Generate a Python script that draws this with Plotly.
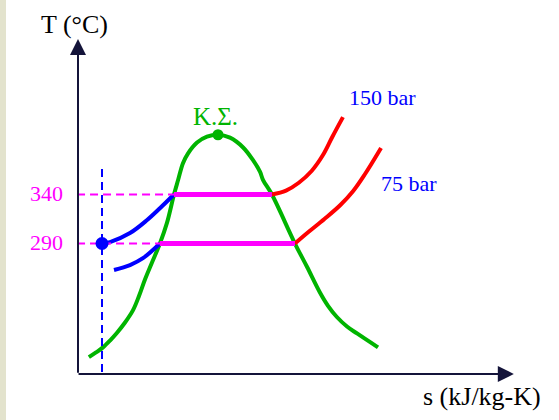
import plotly.graph_objects as go

# ---- data (s in kJ/kg-K, T in °C) ----
dome_s = [0.34, 0.5625, 0.78, 1.0, 1.22, 1.47, 1.72, 1.906, 2.09, 2.3125, 2.56, 2.78, 3.0,
          3.13, 3.28, 3.44, 3.72, 4.03, 4.375, 4.75, 5.16, 5.47, 5.69, 5.78, 6.06, 6.78,
          7.16, 7.56, 7.8125, 8.09, 8.406, 8.72, 9.375]
dome_T = [174, 178.8, 184, 191, 199, 209.4, 222, 236.4, 253, 270.6, 290, 311, 340,
          355, 372, 382, 393, 399, 401, 398, 388, 375, 363, 355, 340, 290,
          266, 240, 226.4, 215, 205.3, 198.2, 184]

liq150_s = [0.75, 1.0, 1.625, 2.16, 2.56, 3.0]
liq150_T = [290, 291.5, 300.7, 314, 326, 340]
liq75_s = [1.125, 1.625, 2.03, 2.56]
liq75_T = [263, 268, 275, 290]

vap150_s = [6.06, 6.5, 6.9, 7.3, 7.65, 7.95, 8.28]
vap150_T = [340, 344, 352, 364, 380, 399, 419]
vap75_s = [6.78, 7.2, 7.7, 8.2, 8.6, 8.95, 9.47]
vap75_T = [290, 301.7, 315, 329.3, 343.6, 359.9, 387.5]

sat_T = [340, 290]
sat_s_left = [3.0, 2.56]
sat_s_right = [6.06, 6.78]
sat_labels = ["340", "290"]
press_labels = ["150 bar", "75 bar"]

state_s = 0.75
state_T = 290
crit_s = 4.375
crit_T = 401

GREEN = "#00b400"
MAG = "#ff00ff"
RED = "#ff0000"
BLUE = "#0000ff"
AXC = "#14143a"
FONT = "Liberation Serif, Times New Roman, DejaVu Serif, serif"

fig = go.Figure()

fig.add_trace(go.Scatter(x=dome_s, y=dome_T, mode="lines",
                         line=dict(color=GREEN, width=4, shape="spline", smoothing=1.0)))
fig.add_trace(go.Scatter(x=liq150_s, y=liq150_T, mode="lines",
                         line=dict(color=BLUE, width=4, shape="spline")))
fig.add_trace(go.Scatter(x=liq75_s, y=liq75_T, mode="lines",
                         line=dict(color=BLUE, width=4, shape="spline")))
fig.add_trace(go.Scatter(x=vap150_s, y=vap150_T, mode="lines",
                         line=dict(color=RED, width=4, shape="spline")))
fig.add_trace(go.Scatter(x=vap75_s, y=vap75_T, mode="lines",
                         line=dict(color=RED, width=4, shape="spline")))

axis_s0 = -0.03
for T, sl, sr in zip(sat_T, sat_s_left, sat_s_right):
    fig.add_trace(go.Scatter(x=[axis_s0, sl], y=[T, T], mode="lines",
                             line=dict(color=MAG, width=2, dash="8px,5px")))
    fig.add_trace(go.Scatter(x=[sl, sr], y=[T, T], mode="lines",
                             line=dict(color=MAG, width=5)))

fig.add_trace(go.Scatter(x=[state_s, state_s], y=[159, 368], mode="lines",
                         line=dict(color=BLUE, width=2, dash="8px,5px")))
fig.add_trace(go.Scatter(x=[state_s], y=[state_T], mode="markers",
                         marker=dict(color=BLUE, size=13)))
fig.add_trace(go.Scatter(x=[crit_s], y=[crit_T], mode="markers",
                         marker=dict(color=GREEN, size=11)))

ann = []
ann.append(dict(x=0, y=498.7, ax=0, ay=156.5, xref="x", yref="y", axref="x", ayref="y",
                text="", showarrow=True, arrowhead=2, arrowsize=1.6, arrowwidth=2, arrowcolor=AXC))
ann.append(dict(x=13.62, y=156.8, ax=-0.03, ay=156.8, xref="x", yref="y", axref="x", ayref="y",
                text="", showarrow=True, arrowhead=2, arrowsize=1.6, arrowwidth=2, arrowcolor=AXC))
ann.append(dict(x=-0.125, y=513, xref="x", yref="y", text="T (°C)", showarrow=False,
                font=dict(family=FONT, size=26, color="black")))
ann.append(dict(x=12.625, y=133.4, xref="x", yref="y", text="s (kJ/kg-K)", showarrow=False,
                font=dict(family=FONT, size=26, color="black")))
for T, lab in zip(sat_T, sat_labels):
    ann.append(dict(x=-0.97, y=T + 1, xref="x", yref="y", text=lab, showarrow=False,
                    font=dict(family=FONT, size=22, color=MAG)))
ann.append(dict(x=4.31, y=420, xref="x", yref="y", text="Κ.Σ.", showarrow=False,
                font=dict(family=FONT, size=25, color=GREEN)))
for (sx, ty), lab in zip([(9.53, 439), (10.33, 351)], press_labels):
    ann.append(dict(x=sx, y=ty, xref="x", yref="y", text=lab, showarrow=False,
                    font=dict(family=FONT, size=22, color=BLUE)))

fig.update_layout(
    width=559, height=420,
    margin=dict(l=0, r=0, t=0, b=0),
    paper_bgcolor="white", plot_bgcolor="white",
    showlegend=False,
    xaxis=dict(range=[-2.4375, 15.03125], visible=False, fixedrange=True),
    yaxis=dict(range=[109.9, 538.5], visible=False, fixedrange=True),
    annotations=ann,
    shapes=[dict(type="rect", xref="paper", yref="paper", x0=0, x1=6 / 559, y0=0, y1=1,
                 fillcolor="#e3e3cd", line=dict(width=0), layer="below")],
)

fig.write_html("out.html", config={"displayModeBar": False},
               post_script="document.body.style.margin='0';")
